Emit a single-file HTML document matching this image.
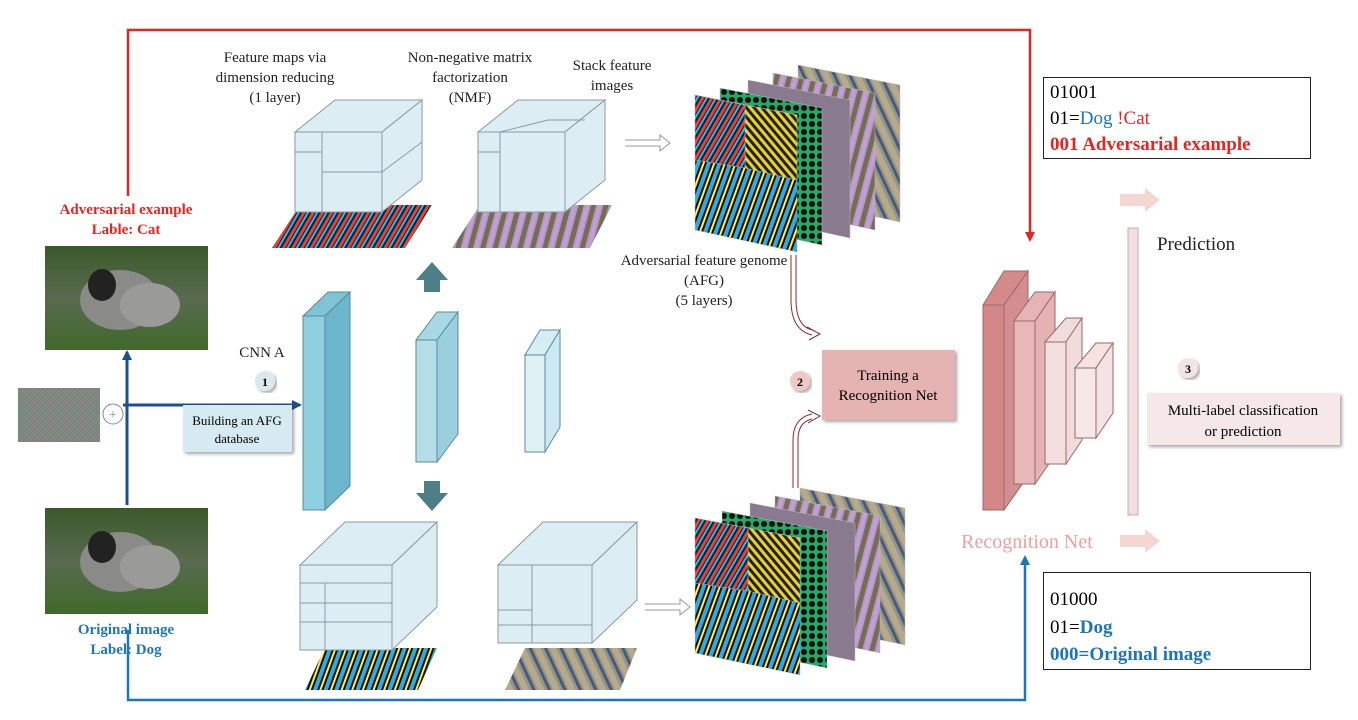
<!DOCTYPE html>
<html><head><meta charset="utf-8"><style>
body{margin:0;background:#fff}
svg{display:block}
text{font-family:"Liberation Serif",serif}
</style></head><body>
<svg width="1358" height="720" viewBox="0 0 1358 720" xmlns="http://www.w3.org/2000/svg">
<defs>
<marker id="ar" markerWidth="10" markerHeight="10" refX="8" refY="5" orient="auto" markerUnits="userSpaceOnUse"><path d="M0,0 L10,5 L0,10 z" fill="#e52521"/></marker>
<marker id="ab" markerWidth="10" markerHeight="10" refX="8" refY="5" orient="auto" markerUnits="userSpaceOnUse"><path d="M0,0 L10,5 L0,10 z" fill="#1e76b8"/></marker>
<marker id="ad" markerWidth="10" markerHeight="10" refX="8" refY="5" orient="auto" markerUnits="userSpaceOnUse"><path d="M0,0 L10,5 L0,10 z" fill="#1f4e8c"/></marker>
<pattern id="p1" width="8" height="8" patternUnits="userSpaceOnUse" patternTransform="rotate(30)"><rect width="8" height="8" fill="#1a1a3a"/><rect width="3" height="8" fill="#d43"/><rect x="4" width="2" height="8" fill="#3bd"/></pattern>
<pattern id="p2" width="6" height="6" patternUnits="userSpaceOnUse" patternTransform="rotate(-40)"><rect width="6" height="6" fill="#222"/><rect width="3" height="6" fill="#e8d030"/></pattern>
<pattern id="p3" width="10" height="10" patternUnits="userSpaceOnUse" patternTransform="rotate(20)"><rect width="10" height="10" fill="#111"/><rect width="4" height="10" fill="#3ad"/><rect x="6" width="2" height="10" fill="#fe5"/></pattern>
<pattern id="p4" width="8" height="8" patternUnits="userSpaceOnUse"><rect width="8" height="8" fill="#2a6"/><circle cx="4" cy="4" r="3" fill="#111"/></pattern>
<pattern id="p5" width="12" height="12" patternUnits="userSpaceOnUse" patternTransform="rotate(15)"><rect width="12" height="12" fill="#a8a0b8"/><rect width="5" height="12" fill="#7a6a5a"/><rect x="7" width="3" height="12" fill="#c9d"/></pattern>
<pattern id="p6" width="14" height="14" patternUnits="userSpaceOnUse" patternTransform="rotate(-25)"><rect width="14" height="14" fill="#8a9a8a"/><rect width="6" height="14" fill="#b9a88a"/><rect x="9" width="3" height="14" fill="#557"/></pattern>
<pattern id="noise" width="4" height="4" patternUnits="userSpaceOnUse"><rect width="4" height="4" fill="#7a8a70"/><rect width="2" height="2" fill="#b06aa0"/><rect x="2" y="2" width="2" height="2" fill="#5aa080"/></pattern>
<linearGradient id="dog" x1="0" y1="0" x2="0" y2="1"><stop offset="0" stop-color="#3a5a2a"/><stop offset="0.5" stop-color="#5a6a50"/><stop offset="1" stop-color="#3f6a2a"/></linearGradient>
<filter id="sh"><feDropShadow dx="2" dy="2" stdDeviation="1.5" flood-opacity="0.35"/></filter>
</defs>

<!-- red loop -->
<polyline points="128,196 128,30 1030,30 1030,240" fill="none" stroke="#e52521" stroke-width="2.5" marker-end="url(#ar)"/>
<!-- blue loop -->
<polyline points="128,630 128,700 1025,700 1025,557" fill="none" stroke="#1e76b8" stroke-width="2.5" marker-end="url(#ab)"/>
<!-- dark blue -->
<line x1="127" y1="505" x2="127" y2="352" stroke="#1f4e8c" stroke-width="3" marker-end="url(#ad)"/>
<line x1="123" y1="405" x2="300" y2="405" stroke="#1f4e8c" stroke-width="3" marker-end="url(#ad)"/>

<!-- left labels -->
<text x="126" y="214" font-size="15" font-weight="bold" fill="#e52521" text-anchor="middle">Adversarial example</text>
<text x="126" y="234" font-size="15" font-weight="bold" fill="#e52521" text-anchor="middle">Lable: Cat</text>
<rect x="45" y="246" width="163" height="104" fill="url(#dog)"/>
<ellipse cx="120" cy="300" rx="40" ry="30" fill="#8a8a88"/><ellipse cx="102" cy="285" rx="14" ry="16" fill="#222"/><ellipse cx="150" cy="305" rx="30" ry="22" fill="#9a9a98"/>
<rect x="18" y="388" width="82" height="54" fill="url(#noise)"/>
<circle cx="113" cy="414" r="10" fill="#fff" stroke="#888"/><text x="113" y="419" font-size="14" text-anchor="middle" fill="#888">+</text>
<rect x="45" y="508" width="163" height="106" fill="url(#dog)"/>
<ellipse cx="120" cy="562" rx="40" ry="30" fill="#8a8a88"/><ellipse cx="102" cy="547" rx="14" ry="16" fill="#222"/><ellipse cx="150" cy="567" rx="30" ry="22" fill="#9a9a98"/>
<text x="126" y="634" font-size="15" font-weight="bold" fill="#1e76b8" text-anchor="middle">Original image</text>
<text x="126" y="654" font-size="15" font-weight="bold" fill="#1e76b8" text-anchor="middle">Label: Dog</text>

<!-- top labels -->
<g font-size="15" fill="#222" text-anchor="middle">
<text x="275" y="62">Feature maps via</text><text x="275" y="82">dimension reducing</text><text x="275" y="102">(1 layer)</text>
<text x="470" y="62">Non-negative matrix</text><text x="470" y="82">factorization</text><text x="470" y="102">(NMF)</text>
<text x="612" y="70">Stack feature</text><text x="612" y="90">images</text>
<text x="704" y="265">Adversarial feature genome</text><text x="704" y="285">(AFG)</text><text x="704" y="305">(5 layers)</text>
<text x="262" y="357">CNN A</text>
</g>

<!-- top cubes floors -->
<polygon points="300,205 432,205 405,248 272,248" fill="url(#p1)"/>
<polygon points="480,205 612,205 590,248 452,248" fill="url(#p5)"/>
<polygon points="325,648 437,648 418,690 305,690" fill="url(#p3)"/>
<polygon points="525,648 637,648 620,690 505,690" fill="url(#p6)"/>

<g fill="#dcedf3" stroke="#8a9aa5" stroke-width="1">
<!-- top cube 1 -->
<polygon points="295,132 335,100 422,100 382,132"/>
<polygon points="382,132 422,100 422,180 382,212"/>
<rect x="295" y="132" width="87" height="80"/>
<line x1="322" y1="132" x2="322" y2="212"/><line x1="295" y1="152" x2="322" y2="152"/><line x1="322" y1="172" x2="382" y2="172"/><line x1="382" y1="172" x2="422" y2="142"/>
<!-- top cube 2 -->
<polygon points="478,132 518,100 605,100 565,132"/>
<polygon points="565,132 605,100 605,180 565,212"/>
<rect x="478" y="132" width="87" height="80"/>
<line x1="500" y1="132" x2="500" y2="212"/><line x1="478" y1="152" x2="500" y2="152"/><line x1="500" y1="132" x2="548" y2="120"/><line x1="548" y1="120" x2="585" y2="120"/>
<!-- bottom cube 1 -->
<polygon points="300,565 345,522 437,522 392,565"/>
<polygon points="392,565 437,522 437,607 392,650"/>
<rect x="300" y="565" width="92" height="85"/>
<line x1="300" y1="583" x2="392" y2="583"/><line x1="300" y1="603" x2="392" y2="603"/><line x1="300" y1="622" x2="392" y2="622"/><line x1="325" y1="583" x2="325" y2="650"/>
<!-- bottom cube 2 -->
<polygon points="498,565 543,522 637,522 592,565"/>
<polygon points="592,565 637,522 637,600 592,643"/>
<rect x="498" y="565" width="94" height="78"/>
<line x1="532" y1="565" x2="532" y2="643"/><line x1="498" y1="610" x2="532" y2="610"/><line x1="498" y1="625" x2="592" y2="625"/>
</g>

<!-- CNN slabs -->
<g stroke="#5a8a9a" stroke-width="1">
<polygon points="303,316 328,292 350,292 325,316" fill="#7fc4d6"/>
<polygon points="325,316 350,292 350,486 325,510" fill="#6bb6cc"/>
<rect x="303" y="316" width="22" height="194" fill="#8ecfdf"/>
<polygon points="416,340 437,312 458,312 437,340" fill="#a8d8e4"/>
<polygon points="437,340 458,312 458,434 437,462" fill="#9ccfdd"/>
<rect x="416" y="340" width="21" height="122" fill="#b4dde8"/>
<polygon points="525,355 540,330 560,330 545,355" fill="#d6edf3"/>
<polygon points="545,355 560,330 560,427 545,452" fill="#cde8f0"/>
<rect x="525" y="355" width="20" height="97" fill="#e0f1f6"/>
</g>
<!-- block arrows -->
<polygon points="416,280 432,262 448,280 440,280 440,292 424,292 424,280" fill="#4e7f86"/>
<polygon points="416,493 432,511 448,493 440,493 440,481 424,481 424,493" fill="#4e7f86"/>

<!-- step 1 -->
<circle cx="265" cy="381" r="10" fill="#dbe9ee" filter="url(#sh)"/><text x="265" y="386" font-size="12" font-weight="bold" text-anchor="middle">1</text>
<rect x="183" y="405" width="109" height="47" fill="#d6ebf1" filter="url(#sh)"/>
<text x="237" y="425" font-size="13" text-anchor="middle">Building an AFG</text><text x="237" y="443" font-size="13" text-anchor="middle">database</text>

<!-- hollow arrows -->
<g fill="none" stroke="#999" stroke-width="1">
<path d="M625,140 L660,140 L660,135 L670,143 L660,151 L660,146 L625,146"/>
<path d="M645,604 L680,604 L680,599 L690,607 L680,615 L680,610 L645,610"/>
</g>

<!-- stacks top -->
<g stroke="#bbb" stroke-width="0.5">
<polygon points="798,65 900,85 900,222 798,200" fill="url(#p6)"/>
<polygon points="773,73 875,93 875,230 773,208" fill="url(#p5)"/>
<polygon points="748,80 850,100 850,238 748,216" fill="#8a7a90"/>
<polygon points="720,88 822,108 822,245 720,223" fill="url(#p4)"/>
<polygon points="695,95 797,115 797,252 695,230" fill="url(#p3)"/>
<polygon points="745,105 797,115 797,180 745,168" fill="url(#p2)"/>
<polygon points="695,95 745,105 745,168 695,160" fill="url(#p1)"/>
</g>
<g stroke="#bbb" stroke-width="0.5">
<polygon points="800,488 905,508 905,645 800,623" fill="url(#p6)"/>
<polygon points="775,496 880,516 880,653 775,631" fill="url(#p5)"/>
<polygon points="750,503 855,523 855,661 750,639" fill="#8a7a90"/>
<polygon points="722,511 827,531 827,668 722,646" fill="url(#p4)"/>
<polygon points="695,518 800,538 800,675 695,653" fill="url(#p3)"/>
<polygon points="748,528 800,538 800,603 748,591" fill="url(#p2)"/>
<polygon points="695,518 748,528 748,591 695,583" fill="url(#p1)"/>
</g>

<!-- curved hollow arrows to training -->
<g fill="none" stroke="#8b2a2a" stroke-width="1">
<path d="M791,255 L791,300 Q791,330 812,335"/><path d="M796,255 L796,300 Q796,326 812,330"/>
<path d="M807,327 L820,334 L809,340"/>
<path d="M793,488 L793,440 Q793,418 812,414"/><path d="M798,488 L798,440 Q798,422 812,419"/>
<path d="M808,410 L820,416 L808,423"/>
</g>
<circle cx="800" cy="381" r="10" fill="#f0c8c8" filter="url(#sh)"/><text x="800" y="386" font-size="12" font-weight="bold" text-anchor="middle">2</text>
<rect x="822" y="350" width="133" height="70" fill="#e6b3b3" filter="url(#sh)"/>
<text x="888" y="380" font-size="15" text-anchor="middle">Training a</text><text x="888" y="400" font-size="15" text-anchor="middle">Recognition Net</text>

<!-- recognition net -->
<g stroke="#9a6a6a" stroke-width="1">
<polygon points="983,305 1004,271 1028,271 1004,305" fill="#d58a8a"/>
<polygon points="1004,305 1028,271 1028,476 1004,510" fill="#d38f8f"/>
<rect x="983" y="305" width="21" height="205" fill="#d48787"/>
<polygon points="1014,321 1035,292 1055,292 1035,321" fill="#e6b4b4"/>
<polygon points="1035,321 1055,292 1055,455 1035,484" fill="#e4b2b2"/>
<rect x="1014" y="321" width="21" height="163" fill="#e8b8b8"/>
<polygon points="1045,342 1066,318 1082,318 1066,342" fill="#f1dcdc"/>
<polygon points="1066,342 1082,318 1082,440 1066,464" fill="#f1dcdc"/>
<rect x="1045" y="342" width="21" height="122" fill="#f3dede"/>
<polygon points="1075,368 1096,343 1113,343 1096,368" fill="#f5e3e3"/>
<polygon points="1096,368 1113,343 1113,413 1096,438" fill="#f5e3e3"/>
<rect x="1075" y="368" width="21" height="70" fill="#f7e8e8"/>
</g>
<rect x="1128" y="228" width="10" height="287" fill="#f2dede" stroke="#b99" stroke-width="0.8"/>
<text x="1027" y="548" font-size="20" fill="#eaa0a0" text-anchor="middle">Recognition Net</text>
<text x="1157" y="250" font-size="19" fill="#222">Prediction</text>
<polygon points="1120,194 1145,194 1145,188 1160,200 1145,212 1145,206 1120,206" fill="#f3d6d0"/>
<polygon points="1120,535 1145,535 1145,529 1160,541 1145,553 1145,547 1120,547" fill="#f3d6d0"/>
<circle cx="1188" cy="368" r="10" fill="#f5e4e4" filter="url(#sh)"/><text x="1188" y="373" font-size="12" font-weight="bold" text-anchor="middle">3</text>
<rect x="1147" y="393" width="193" height="52" fill="#f6e8e8" filter="url(#sh)"/>
<text x="1243" y="415" font-size="15" text-anchor="middle">Multi-label classification</text><text x="1243" y="436" font-size="15" text-anchor="middle">or prediction</text>

<!-- text boxes -->
<rect x="1043.5" y="77.5" width="267" height="81" fill="#fff" stroke="#222"/>
<text x="1050" y="98" font-size="19">01001</text>
<text x="1050" y="124" font-size="19">01=<tspan fill="#1e76b8">Dog</tspan><tspan fill="#e52521">  !Cat</tspan></text>
<text x="1050" y="150" font-size="19" font-weight="bold" fill="#e52521">001 Adversarial example</text>
<rect x="1043.5" y="572.5" width="267" height="97" fill="#fff" stroke="#222"/>
<text x="1050" y="605" font-size="19">01000</text>
<text x="1050" y="633" font-size="19">01=<tspan fill="#1e76b8" font-weight="bold">Dog</tspan></text>
<text x="1050" y="660" font-size="19" font-weight="bold" fill="#1e76b8">000=Original image</text>
</svg>
</body></html>
